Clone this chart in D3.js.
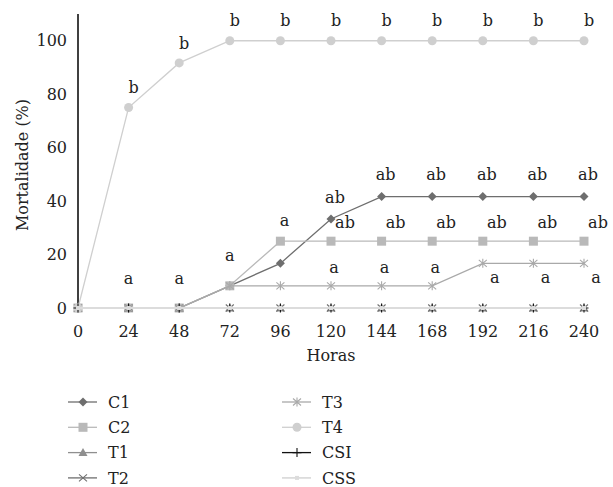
<!DOCTYPE html>
<html>
<head>
<meta charset="utf-8">
<script src="https://cdn.jsdelivr.net/npm/d3@7"></script>
<style>
  body { margin: 0; background: #fff; }
</style>
</head>
<body>
<div id="chart"></div>
<script>
// --------------- Data ---------------
const hours = [0, 24, 48, 72, 96, 120, 144, 168, 192, 216, 240];
const yTicks = [0, 20, 40, 60, 80, 100];

const valuesC1 = [0, 0, 0, 8.3, 16.7, 33.3, 41.7, 41.7, 41.7, 41.7, 41.7];
const valuesC2 = [0, 0, 0, 8.3, 25, 25, 25, 25, 25, 25, 25];
const valuesT1 = [0, 0, 0, 0, 0, 0, 0, 0, 0, 0, 0];
const valuesT2 = [0, 0, 0, 0, 0, 0, 0, 0, 0, 0, 0];
const valuesT3 = [0, 0, 0, 8.3, 8.3, 8.3, 8.3, 8.3, 16.7, 16.7, 16.7];
const valuesT4 = [0, 75, 91.7, 100, 100, 100, 100, 100, 100, 100, 100];
const valuesCSI = [0, 0, 0, 0, 0, 0, 0, 0, 0, 0, 0];
const valuesCSS = [0, 0, 0, 0, 0, 0, 0, 0, 0, 0, 0];

// significance letters per point
const lettersC1 = ["", "", "", "", "", "ab", "ab", "ab", "ab", "ab", "ab"];
const lettersC2 = ["", "", "", "", "a", "ab", "ab", "ab", "ab", "ab", "ab"];
const lettersT3 = ["", "a", "a", "a", "", "a", "a", "a", "a", "a", "a"];
const lettersT4 = ["", "b", "b", "b", "b", "b", "b", "b", "b", "b", "b"];

// --------------- Constants ---------------
const WIDTH = 613;
const HEIGHT = 487;
const FONT = "DejaVu Serif";

const series = [
  { name: "C1", values: valuesC1, color: "#6e6e6e", marker: "diamond", letters: lettersC1 },
  { name: "C2", values: valuesC2, color: "#b9b9b9", marker: "square", letters: lettersC2 },
  { name: "T1", values: valuesT1, color: "#8f8f8f", marker: "triangle" },
  { name: "T2", values: valuesT2, color: "#6e6e6e", marker: "cross" },
  { name: "T3", values: valuesT3, color: "#a9a9a9", marker: "asterisk", letters: lettersT3 },
  { name: "T4", values: valuesT4, color: "#cfcfcf", marker: "circle", letters: lettersT4 },
  { name: "CSI", values: valuesCSI, color: "#111111", marker: "plus" },
  { name: "CSS", values: valuesCSS, color: "#dcdcdc", marker: "smallsquare" },
];

const svg = d3.select("#chart")
  .append("svg")
  .attr("width", WIDTH)
  .attr("height", HEIGHT);

const x = d3.scaleLinear().domain([0, 240]).range([78, 584]);
const y = d3.scaleLinear().domain([0, 110]).range([308, 14]);

function addText(parent) {
  return parent.append("text")
    .style("font-family", FONT)
    .style("font-size", "16px")
    .attr("fill", "#222");
}

// --------------- Axes ---------------
svg.append("line")
  .attr("x1", x(0)).attr("x2", x(0))
  .attr("y1", y(110)).attr("y2", y(0) + 2)
  .attr("stroke", "#000").attr("stroke-width", 1.5);

const yLabels = svg.append("g");
yTicks.forEach((t) => {
  addText(yLabels)
    .attr("x", 67)
    .attr("y", y(t))
    .attr("dy", "0.35em")
    .attr("text-anchor", "end")
    .text(t);
});

const xLabels = svg.append("g");
hours.forEach((h) => {
  addText(xLabels)
    .attr("x", x(h))
    .attr("y", 331)
    .attr("dy", "0.35em")
    .attr("text-anchor", "middle")
    .text(h);
});

addText(svg)
  .attr("x", 331)
  .attr("y", 355)
  .attr("dy", "0.35em")
  .attr("text-anchor", "middle")
  .text("Horas");

addText(svg)
  .attr("transform", "translate(22,165) rotate(-90)")
  .attr("dy", "0.35em")
  .attr("text-anchor", "middle")
  .text("Mortalidade (%)");

// --------------- Markers ---------------
function drawMarker(sel, type, color) {
  if (type === "diamond") {
    sel.append("path").attr("d", "M0,-4.5L4.5,0L0,4.5L-4.5,0Z").attr("fill", color);
  } else if (type === "square") {
    sel.append("rect").attr("x", -4.5).attr("y", -4.5).attr("width", 9).attr("height", 9).attr("fill", color);
  } else if (type === "smallsquare") {
    sel.append("rect").attr("x", -2).attr("y", -2).attr("width", 4).attr("height", 4).attr("fill", color);
  } else if (type === "triangle") {
    sel.append("path").attr("d", "M0,-4.5L4.5,3.5L-4.5,3.5Z").attr("fill", color);
  } else if (type === "circle") {
    sel.append("circle").attr("r", 4.5).attr("fill", color);
  } else if (type === "cross") {
    sel.append("path").attr("d", "M-4,-3.5L4,3.5M-4,3.5L4,-3.5").attr("stroke", color).attr("stroke-width", 1.1).attr("fill", "none");
  } else if (type === "plus") {
    sel.append("path").attr("d", "M-4.5,0L4.5,0M0,-4.5L0,4.5").attr("stroke", color).attr("stroke-width", 1.1).attr("fill", "none");
  } else if (type === "asterisk") {
    sel.append("path")
      .attr("d", "M-4,-3.5L4,3.5M-4,3.5L4,-3.5M0,-4.5L0,4.5")
      .attr("stroke", color).attr("stroke-width", 1.1).attr("fill", "none");
  }
}

// --------------- Lines ---------------
const line = d3.line()
  .x((d) => x(d[0]))
  .y((d) => y(d[1]));

series.forEach((s) => {
  const pts = hours.map((h, i) => [h, s.values[i]]);
  const g = svg.append("g");
  g.append("path")
    .datum(pts)
    .attr("d", line)
    .attr("fill", "none")
    .attr("stroke", s.color)
    .attr("stroke-width", s.name === "CSS" ? 2.2 : 1.3);

  g.selectAll("g.pt")
    .data(pts)
    .enter()
    .append("g")
    .attr("class", "pt")
    .attr("transform", (d) => `translate(${x(d[0])},${y(d[1])})`)
    .each(function () { drawMarker(d3.select(this), s.marker, s.color); });
});

// --------------- Letters ---------------
const letterOffset = {
  C1: () => [4, -22],
  C2: (i) => (i === 4 ? [4, -21] : [14, -19]),
  T3: (i) => (i <= 3 ? [0, -30] : i <= 7 ? [3, -18] : [12, 14]),
  T4: () => [5, -20],
};

series.filter((s) => s.letters).forEach((s) => {
  const lg = svg.append("g");
  s.letters.forEach((l, i) => {
    if (!l) return;
    const [dx, dy] = letterOffset[s.name](i);
    addText(lg)
      .attr("x", x(hours[i]) + dx)
      .attr("y", y(s.values[i]) + dy)
      .attr("dy", "0.35em")
      .attr("text-anchor", "middle")
      .text(l);
  });
});

// --------------- Legend ---------------
const legend = svg.append("g");
series.forEach((s, i) => {
  const col = Math.floor(i / 4);
  const row = i % 4;
  const lx = col === 0 ? 68 : 282;
  const ly = 402 + row * 25.3;
  const item = legend.append("g").attr("transform", `translate(${lx},${ly})`);
  item.append("line")
    .attr("x1", 0).attr("x2", 29)
    .attr("stroke", s.color)
    .attr("stroke-width", s.name === "CSS" ? 1.8 : 1.3);
  drawMarker(item.append("g").attr("transform", "translate(15,0)"), s.marker, s.color);
  addText(item)
    .attr("x", 40)
    .attr("dy", "0.35em")
    .text(s.name);
});
</script>
</body>
</html>
